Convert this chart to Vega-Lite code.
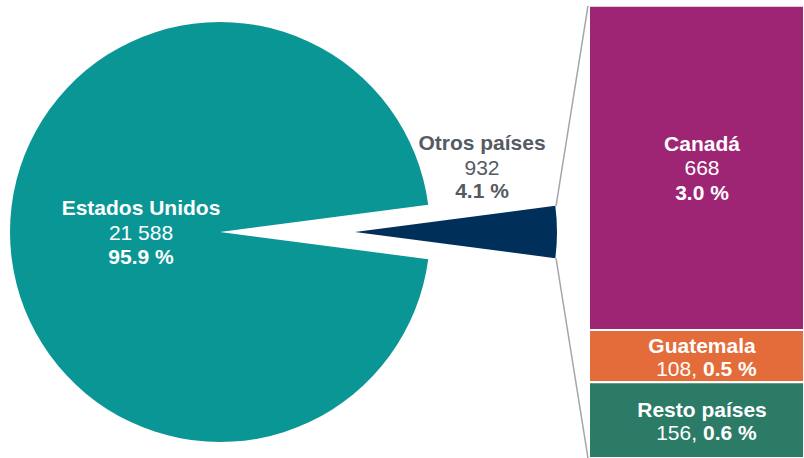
{
  "$schema": "https://vega.github.io/schema/vega-lite/v6.json",
  "width": 804,
  "height": 458,
  "padding": 0,
  "autosize": {"type": "none"},
  "background": "white",
  "config": {"view": {"stroke": null}, "text": {"font": "Liberation Sans", "fontSize": 21}},
  "datasets": {
    "pie": [
      {"pais": "Estados Unidos", "valor": 21588, "pct": 95.9},
      {"pais": "Otros países", "valor": 932, "pct": 4.1}
    ],
    "barra": [
      {"pais": "Canadá", "valor": 668, "pct": 3.0},
      {"pais": "Guatemala", "valor": 108, "pct": 0.5},
      {"pais": "Resto países", "valor": 156, "pct": 0.6}
    ]
  },
  "layer": [
    {
      "data": {"name": "pie"},
      "mark": {"type": "arc", "x": 220, "y": 232, "radius": 210},
      "encoding": {
        "theta": {"field": "valor", "type": "quantitative", "stack": true, "scale": {"range": [-4.582374, 1.700811]}},
        "order": {"field": "pais", "type": "ordinal", "sort": "ascending"},
        "color": {"field": "pais", "type": "nominal", "legend": null,
          "scale": {"domain": ["Estados Unidos", "Otros países", "Canadá", "Guatemala", "Resto países"],
                    "range": ["#0B9696", "#00305A", "#9E2474", "#E46C3A", "#2B7B66"]}},
        "opacity": {"condition": {"test": "datum.pais === 'Otros países'", "value": 0}, "value": 1}
      }
    },
    {
      "data": {"name": "pie"},
      "mark": {"type": "arc", "x": 355, "y": 232, "radius": 202},
      "encoding": {
        "theta": {"field": "valor", "type": "quantitative", "stack": true},
        "order": {"field": "pais", "type": "ordinal", "sort": "ascending"},
        "color": {"field": "pais", "type": "nominal", "legend": null},
        "opacity": {"condition": {"test": "datum.pais === 'Otros países'", "value": 1}, "value": 0}
      }
    },
    {
      "data": {"name": "pie"},
      "mark": {"type": "text", "x": 220, "y": 232, "radius": 79, "dy": -17, "fontWeight": "bold", "color": "white", "align": "center", "baseline": "alphabetic"},
      "encoding": {
        "theta": {"field": "valor", "type": "quantitative", "stack": true},
        "order": {"field": "pais", "type": "ordinal", "sort": "ascending"},
        "detail": {"field": "pais", "type": "nominal"},
        "text": {"condition": {"test": "datum.pais === 'Estados Unidos'", "field": "pais", "type": "nominal"}, "value": ""}
      }
    },
    {
      "data": {"name": "pie"},
      "transform": [{"calculate": "replace(format(datum.valor, ','), ',', ' ')", "as": "valor_txt"}],
      "mark": {"type": "text", "x": 220, "y": 232, "radius": 79, "dy": 8, "fontWeight": "normal", "color": "white", "align": "center", "baseline": "alphabetic"},
      "encoding": {
        "theta": {"field": "valor", "type": "quantitative", "stack": true},
        "order": {"field": "pais", "type": "ordinal", "sort": "ascending"},
        "detail": {"field": "pais", "type": "nominal"},
        "text": {"condition": {"test": "datum.pais === 'Estados Unidos'", "field": "valor_txt", "type": "nominal"}, "value": ""}
      }
    },
    {
      "data": {"name": "pie"},
      "transform": [{"calculate": "format(datum.pct, '.1f') + ' %'", "as": "pct_txt"}],
      "mark": {"type": "text", "x": 220, "y": 232, "radius": 79, "dy": 32, "fontWeight": "bold", "color": "white", "align": "center", "baseline": "alphabetic"},
      "encoding": {
        "theta": {"field": "valor", "type": "quantitative", "stack": true},
        "order": {"field": "pais", "type": "ordinal", "sort": "ascending"},
        "detail": {"field": "pais", "type": "nominal"},
        "text": {"condition": {"test": "datum.pais === 'Estados Unidos'", "field": "pct_txt", "type": "nominal"}, "value": ""}
      }
    },
    {
      "data": {"name": "pie"},
      "mark": {"type": "text", "x": 220, "y": 232, "radius": 262, "dy": -82, "fontWeight": "bold", "color": "#555B63", "align": "center", "baseline": "alphabetic"},
      "encoding": {
        "theta": {"field": "valor", "type": "quantitative", "stack": true},
        "order": {"field": "pais", "type": "ordinal", "sort": "ascending"},
        "detail": {"field": "pais", "type": "nominal"},
        "text": {"condition": {"test": "datum.pais === 'Otros países'", "field": "pais", "type": "nominal"}, "value": ""}
      }
    },
    {
      "data": {"name": "pie"},
      "transform": [{"calculate": "replace(format(datum.valor, ','), ',', ' ')", "as": "valor_txt"}],
      "mark": {"type": "text", "x": 220, "y": 232, "radius": 262, "dy": -57, "fontWeight": "normal", "color": "#555B63", "align": "center", "baseline": "alphabetic"},
      "encoding": {
        "theta": {"field": "valor", "type": "quantitative", "stack": true},
        "order": {"field": "pais", "type": "ordinal", "sort": "ascending"},
        "detail": {"field": "pais", "type": "nominal"},
        "text": {"condition": {"test": "datum.pais === 'Otros países'", "field": "valor_txt", "type": "nominal"}, "value": ""}
      }
    },
    {
      "data": {"name": "pie"},
      "transform": [{"calculate": "format(datum.pct, '.1f') + ' %'", "as": "pct_txt"}],
      "mark": {"type": "text", "x": 220, "y": 232, "radius": 262, "dy": -34, "fontWeight": "bold", "color": "#555B63", "align": "center", "baseline": "alphabetic"},
      "encoding": {
        "theta": {"field": "valor", "type": "quantitative", "stack": true},
        "order": {"field": "pais", "type": "ordinal", "sort": "ascending"},
        "detail": {"field": "pais", "type": "nominal"},
        "text": {"condition": {"test": "datum.pais === 'Otros países'", "field": "pct_txt", "type": "nominal"}, "value": ""}
      }
    },
    {
      "data": {"name": "barra"},
      "transform": [{"stack": "valor", "groupby": [], "sort": [{"field": "pais", "order": "descending"}], "as": ["v0", "v1"]}],
      "mark": {"type": "rect", "x": 589, "x2": 804, "stroke": "white", "strokeWidth": 2},
      "encoding": {
        "y": {"field": "v0", "type": "quantitative", "scale": {"domain": [0, 944], "nice": false, "zero": true}, "axis": null},
        "y2": {"field": "v1"},
        "color": {"field": "pais", "type": "nominal", "legend": null}
      }
    },
    {
      "data": {"name": "barra"},
      "mark": {"type": "text", "x": 702, "dy": -17, "fontWeight": "bold", "color": "white", "align": "center", "baseline": "alphabetic"},
      "encoding": {
        "y": {"field": "valor", "type": "quantitative", "stack": "zero", "bandPosition": 0.5, "scale": {"domain": [0, 944], "nice": false, "zero": true}},
        "order": {"field": "pais", "type": "ordinal", "sort": "descending"},
        "detail": {"field": "pais", "type": "nominal"},
        "text": {"condition": {"test": "datum.pais === 'Canadá'", "field": "pais", "type": "nominal"}, "value": ""}
      }
    },
    {
      "data": {"name": "barra"},
      "mark": {"type": "text", "x": 702, "dy": 7.5, "fontWeight": "normal", "color": "white", "align": "center", "baseline": "alphabetic"},
      "encoding": {
        "y": {"field": "valor", "type": "quantitative", "stack": "zero", "bandPosition": 0.5, "scale": {"domain": [0, 944], "nice": false, "zero": true}},
        "order": {"field": "pais", "type": "ordinal", "sort": "descending"},
        "detail": {"field": "pais", "type": "nominal"},
        "text": {"condition": {"test": "datum.pais === 'Canadá'", "field": "valor", "type": "nominal"}, "value": ""}
      }
    },
    {
      "data": {"name": "barra"},
      "transform": [{"calculate": "format(datum.pct, '.1f') + ' %'", "as": "pct_txt"}],
      "mark": {"type": "text", "x": 702, "dy": 32, "fontWeight": "bold", "color": "white", "align": "center", "baseline": "alphabetic"},
      "encoding": {
        "y": {"field": "valor", "type": "quantitative", "stack": "zero", "bandPosition": 0.5, "scale": {"domain": [0, 944], "nice": false, "zero": true}},
        "order": {"field": "pais", "type": "ordinal", "sort": "descending"},
        "detail": {"field": "pais", "type": "nominal"},
        "text": {"condition": {"test": "datum.pais === 'Canadá'", "field": "pct_txt", "type": "nominal"}, "value": ""}
      }
    },
    {
      "data": {"name": "barra"},
      "mark": {"type": "text", "x": 702, "dy": -3, "fontWeight": "bold", "color": "white", "align": "center", "baseline": "alphabetic"},
      "encoding": {
        "y": {"field": "valor", "type": "quantitative", "stack": "zero", "bandPosition": 0.5, "scale": {"domain": [0, 944], "nice": false, "zero": true}},
        "order": {"field": "pais", "type": "ordinal", "sort": "descending"},
        "detail": {"field": "pais", "type": "nominal"},
        "text": {"condition": {"test": "datum.pais !== 'Canadá'", "field": "pais", "type": "nominal"}, "value": ""}
      }
    },
    {
      "data": {"name": "barra"},
      "transform": [{"calculate": "datum.valor + ','", "as": "valor_coma"}],
      "mark": {"type": "text", "x": 697, "dy": 20, "fontWeight": "normal", "color": "white", "align": "right", "baseline": "alphabetic"},
      "encoding": {
        "y": {"field": "valor", "type": "quantitative", "stack": "zero", "bandPosition": 0.5, "scale": {"domain": [0, 944], "nice": false, "zero": true}},
        "order": {"field": "pais", "type": "ordinal", "sort": "descending"},
        "detail": {"field": "pais", "type": "nominal"},
        "text": {"condition": {"test": "datum.pais !== 'Canadá'", "field": "valor_coma", "type": "nominal"}, "value": ""}
      }
    },
    {
      "data": {"name": "barra"},
      "transform": [{"calculate": "format(datum.pct, '.1f') + ' %'", "as": "pct_txt"}],
      "mark": {"type": "text", "x": 703, "dy": 20, "fontWeight": "bold", "color": "white", "align": "left", "baseline": "alphabetic"},
      "encoding": {
        "y": {"field": "valor", "type": "quantitative", "stack": "zero", "bandPosition": 0.5, "scale": {"domain": [0, 944], "nice": false, "zero": true}},
        "order": {"field": "pais", "type": "ordinal", "sort": "descending"},
        "detail": {"field": "pais", "type": "nominal"},
        "text": {"condition": {"test": "datum.pais !== 'Canadá'", "field": "pct_txt", "type": "nominal"}, "value": ""}
      }
    },
    {
      "data": {"values": [{}]},
      "mark": {"type": "rule", "color": "#A6A6A6", "strokeWidth": 1.5},
      "encoding": {"x": {"value": 556}, "x2": {"value": 588}, "y": {"datum": 519, "scale": {"domain": [0, 944], "nice": false, "zero": true}}, "y2": {"datum": 932}}
    },
    {
      "data": {"values": [{}]},
      "mark": {"type": "rule", "color": "#A6A6A6", "strokeWidth": 1.5},
      "encoding": {"x": {"value": 556}, "x2": {"value": 588}, "y": {"datum": 412, "scale": {"domain": [0, 944], "nice": false, "zero": true}}, "y2": {"datum": 0}}
    }
  ]
}
